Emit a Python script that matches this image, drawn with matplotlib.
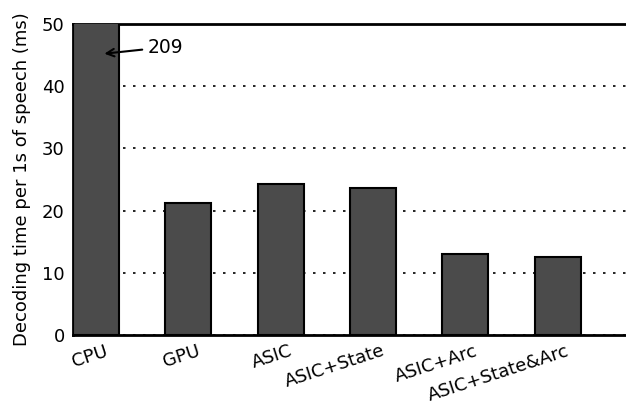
import matplotlib
matplotlib.use("Agg")
import matplotlib.pyplot as plt
import matplotlib.transforms as mtransforms
import numpy as np

# decoding time per 1 s of speech, in ms
platforms = ["CPU", "GPU", "ASIC", "ASIC+State", "ASIC+Arc", "ASIC+State&Arc"]
decode_ms = [209, 21.3, 24.3, 23.7, 13.0, 12.5]
cpu_label = "209"

plt.rcParams["font.family"] = "DejaVu Sans"
plt.rcParams["font.size"] = 13

fig = plt.figure(figsize=(6.26, 4.09), dpi=100)
ax = fig.add_axes([0.1166, 0.181, 0.885, 0.760])

x = np.arange(len(platforms))
width = 0.5
ax.bar(x, decode_ms, width=width, align="edge", color="#4b4b4b",
       edgecolor="black", linewidth=1.5, zorder=3)

ax.set_xlim(0, 6)
ax.set_ylim(0, 50)
ax.set_yticks([0, 10, 20, 30, 40, 50])
ax.yaxis.grid(True, linestyle=(0, (1.5, 4.5)), color="black", linewidth=1.2, zorder=0)
ax.tick_params(length=0)
ax.tick_params(axis="y", pad=6)
ax.tick_params(axis="x", pad=5)

ax.set_xticks(x + width / 2)
ax.set_xticklabels(platforms, rotation=18, ha="right")
shift = mtransforms.ScaledTranslation(0.14, 0, fig.dpi_scale_trans)
for lbl in ax.get_xticklabels():
    lbl.set_transform(lbl.get_transform() + shift)

for side in ax.spines.values():
    side.set_linewidth(2)

ax.set_ylabel("Decoding time per 1s of speech (ms)", labelpad=8)

# CPU bar runs off the top, so mark its real value
ax.annotate(cpu_label, xy=(0.31, 45.2), xytext=(0.81, 46.3),
            va="center", ha="left", fontsize=13.5,
            arrowprops=dict(arrowstyle="->", color="black", lw=1.5))

fig.savefig("out.png", dpi=100)
